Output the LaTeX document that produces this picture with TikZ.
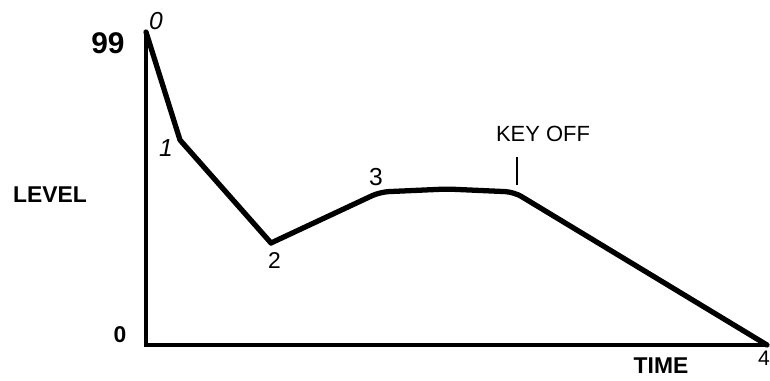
\documentclass[tikz,border=0pt]{standalone}
\usepackage{fontspec}
\setmainfont{Liberation Sans}
\usepackage{tikz}
\usetikzlibrary{positioning}

\begin{document}
\begin{tikzpicture}[
        x=0.02cm, y=-0.02cm,
        axis/.style={line width=2.4pt},
        env/.style={line width=3pt, line join=round, line cap=round},
        printed/.style={font={\fontsize{13}{15}\selectfont\bfseries}, inner sep=0pt},
        hand/.style={font={\fontsize{13}{15}\selectfont}, inner sep=0pt},
        tickmark/.style={line width=0.7pt},
        node distance=5pt
    ]
        \useasboundingbox (0,0) rectangle (770,381);

        \coordinate (orig) at (146,345);
        \coordinate (top) at (146,32);
        \coordinate (tend) at (768,345);
        \coordinate (p1) at (180,140);
        \coordinate (p2) at (271,243);
        \coordinate (p3) at (380,192);
        \coordinate (sus) at (447,189);
        \coordinate (koff) at (514,192);
        \coordinate (p4) at (767,345);

        \draw[axis] (top) -- (orig) -- (tend);
        \draw[env] (top) -- (p1) -- (p2);
        \draw[env, rounded corners=5pt] (p2) -- (p3) -- (sus) -- (koff) -- (p4);

        \node[printed, font={\fontsize{17}{19}\selectfont\bfseries}] (l99) at (108,43) {99};
        \node[printed] (lzero) at (120,335) {0};
        \node[printed] (level) at (50,195) {LEVEL};
        \node[printed] (time) at (661,366) {TIME};

        \node[hand, font={\fontsize{14}{16}\selectfont\itshape}] (n0) at (156,21) {0};
        \node[hand, font={\fontsize{14}{16}\selectfont\itshape}] (n1) at (166,148) {1};
        \node[hand, below=5pt of p2, xshift=2pt] (n2) {2};
        \node[hand, font={\fontsize{14}{16}\selectfont}] (n3) at (376,177) {3};
        \node[hand, font={\fontsize{12}{14}\selectfont}] (n4) at (764,358) {4};
        \node[hand, font={\fontsize{12.5}{14}\selectfont}] (keyoff) at (543,134) {KEY OFF};

        \coordinate (tktop) at (517,157);
        \coordinate (tkbot) at (517,185);
        \draw[tickmark] (tktop) -- (tkbot);
\end{tikzpicture}
\end{document}
